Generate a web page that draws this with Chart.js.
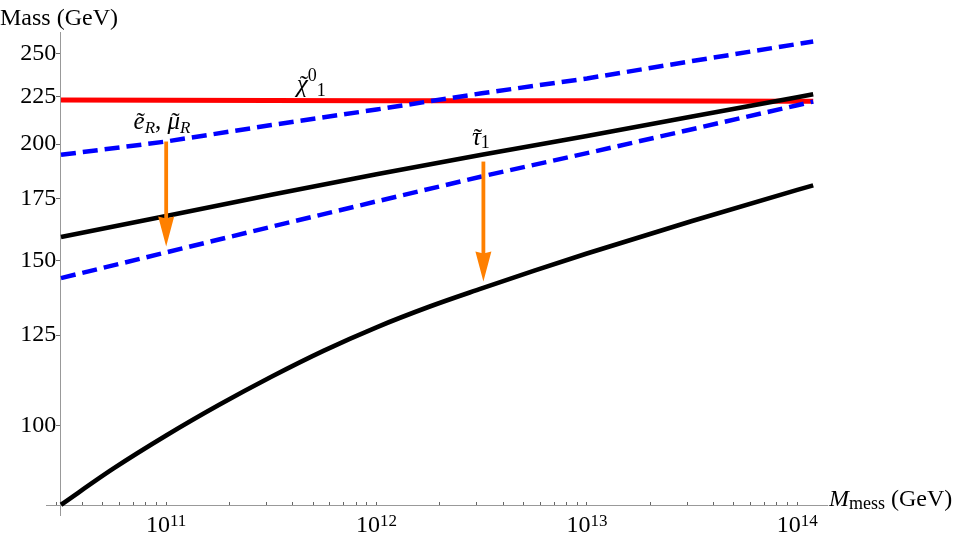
<!DOCTYPE html>
<html>
<head>
<meta charset="utf-8">
<script src="https://cdn.jsdelivr.net/npm/chart.js@4.4.1/dist/chart.umd.min.js"></script>
<style>
  html, body { margin: 0; padding: 0; background: #fff; }
</style>
</head>
<body>
<canvas id="massChart" width="958" height="536"></canvas>
<script>
// messenger scale in GeV
const mMess = [3.162e10, 1e11, 3.162e11, 1e12, 3.162e12, 1e13, 3.162e13, 1e14, 1.19e14];
const mMessStau = [3.162e10, 5.623e10, 1e11, 1.778e11, 3.162e11, 5.623e11, 1e12, 1.778e12, 3.162e12, 5.623e12, 1e13, 3.162e13, 1e14, 1.19e14];

// masses in GeV
const neutralino = [222.9, 222.8, 222.7, 222.6, 222.5, 222.5, 222.4, 222.3, 222.3];
const selectronOld = [194.8, 201.3, 209.6, 217.8, 226.7, 235.1, 245.4, 255.9, 257.5];
const selectronNew = [143.8, 153.2, 163.2, 173.7, 184.7, 195.6, 207.5, 220.1, 222.1];
const stauOld = [159.1, 167.6, 176.6, 185.7, 194.8, 204.1, 214.1, 224.5, 226.2];
const stauNew = [82.3, 90.0, 97.6, 105.2, 112.8, 120.3, 127.4, 134.0, 140.2, 146.5, 152.8, 165.5, 178.7, 180.7];

const yTicks = [100, 125, 150, 175, 200, 225, 250];
const xMajor = [1e11, 1e12, 1e13, 1e14];
const xMajorExp = ["11", "12", "13", "14"];

// orange arrows: where they sit and which masses they join
const arrowAt = [1e11, 3.22e12];
const arrowFrom = [201.3, 191.6];
const arrowTo = [155.4, 142.6];

const serif = '"Liberation Serif", "Times New Roman", serif';

function pts(xs, ys) {
    return xs.map(function(x, i) { return {x: x, y: ys[i]}; });
}

// minor ticks 3..9 x 10^10 up to 10^14
let xTicks = [];
[1e10, 1e11, 1e12, 1e13].forEach(function(d) {
    for (let k = 1; k <= 9; k++) {
        if (d * k >= 3e10) xTicks.push(d * k);
    }
});
xTicks.push(1e14);

// pieces: [text, font, dy, tilde]
function drawPieces(ctx, x, y, pieces, align) {
    let w = 0;
    pieces.forEach(function(p) { ctx.font = p[1]; w += ctx.measureText(p[0]).width; });
    let cx = align === "center" ? x - w / 2 : x;
    pieces.forEach(function(p) {
        ctx.font = p[1];
        let pw = ctx.measureText(p[0]).width;
        ctx.fillText(p[0], cx, y + (p[2] || 0));
        if (p[3]) {
            ctx.font = "25px " + serif;
            let tw = ctx.measureText("\u02DC").width;
            ctx.fillText("\u02DC", cx + pw / 2 - tw / 2 + 1.5, y + (p[2] || 0) + 1);
        }
        cx += pw;
    });
}

const arrows = {
    id: "arrows",
    afterDatasetsDraw(chart) {
        let ctx = chart.ctx;
        let xs = chart.scales.x, ys = chart.scales.y;
        ctx.save();
        ctx.fillStyle = "#ff8000";
        ctx.strokeStyle = "#ff8000";
        arrowAt.forEach(function(v, i) {
            let px = xs.getPixelForValue(v);
            let y0 = ys.getPixelForValue(arrowFrom[i]);
            let y1 = ys.getPixelForValue(arrowTo[i]);
            ctx.lineWidth = 3.8;
            ctx.beginPath();
            ctx.moveTo(px, y0);
            ctx.lineTo(px, y1 - 27);
            ctx.stroke();
            ctx.beginPath();
            ctx.moveTo(px, y1);
            ctx.lineTo(px - 8, y1 - 30);
            ctx.lineTo(px, y1 - 28);
            ctx.lineTo(px + 8, y1 - 30);
            ctx.closePath();
            ctx.fill();
        });
        ctx.restore();
    }
};

const texts = {
    id: "texts",
    afterDraw(chart) {
        let ctx = chart.ctx;
        let xs = chart.scales.x, ys = chart.scales.y;
        let big = "25px " + serif, ibig = "italic 25px " + serif;
        let small = "18px " + serif, ismall = "italic 17px " + serif;
        ctx.save();
        ctx.fillStyle = "#000";
        ctx.textBaseline = "alphabetic";
        ctx.textAlign = "left";

        // x tick labels 10^n
        let axisY = ys.getPixelForValue(82.11);
        xMajor.forEach(function(v, i) {
            drawPieces(ctx, xs.getPixelForValue(v), axisY + 26,
                [["10", "24px " + serif], [xMajorExp[i], "17px " + serif, -6]], "center");
        });

        // axis titles
        drawPieces(ctx, 0, 25, [["Mass (GeV)", "24px " + serif]]);
        drawPieces(ctx, chart.chartArea.right + 2, axisY,
            [["M", "italic 24px " + serif], ["mess", "18px " + serif, 3], [" (GeV)", "24px " + serif]]);

        // curve labels
        drawPieces(ctx, xs.getPixelForValue(7.0e10), ys.getPixelForValue(207.7),
            [["e", ibig, 0, true], ["R", ismall, 4], [", ", big], ["\u03BC", ibig, 0, true], ["R", ismall, 4]]);
        drawPieces(ctx, xs.getPixelForValue(2.84e12), ys.getPixelForValue(199.6),
            [["\u03C4", ibig, 0, true], ["1", small, 3]]);
        drawPieces(ctx, xs.getPixelForValue(4.18e11), ys.getPixelForValue(227.2),
            [["\u03C7", ibig, 0, true], ["0", small, -11], ["1", small, 4]]);
        ctx.restore();
    }
};

let ctx = document.getElementById("massChart").getContext("2d");

new Chart(ctx, {
    type: "line",
    data: {
        datasets: [
            {label: "neutralino", data: pts(mMess, neutralino), borderColor: "#ff0000", borderWidth: 5, order: 5},
            {label: "selectron old", data: pts(mMess, selectronOld), borderColor: "#0000ff", borderWidth: 4.5, borderDash: [15, 7], order: 4},
            {label: "selectron new", data: pts(mMess, selectronNew), borderColor: "#0000ff", borderWidth: 4.5, borderDash: [15, 7], order: 3},
            {label: "stau old", data: pts(mMess, stauOld), borderColor: "#000", borderWidth: 4.6, order: 2},
            {label: "stau new", data: pts(mMessStau, stauNew), borderColor: "#000", borderWidth: 4.6, cubicInterpolationMode: "monotone", order: 1}
        ]
    },
    options: {
        responsive: false,
        animation: false,
        devicePixelRatio: 1,
        layout: {padding: {left: 46, right: 131, top: 32, bottom: 21}},
        plugins: {legend: {display: false}, tooltip: {enabled: false}},
        elements: {point: {radius: 0}, line: {tension: 0, borderCapStyle: "butt"}},
        scales: {
            x: {
                type: "logarithmic",
                min: 2.684e10,
                max: 1.384e14,
                position: {y: 82.11},
                afterBuildTicks: function(s) { s.ticks = xTicks.map(function(v) { return {value: v}; }); },
                ticks: {display: false},
                grid: {drawOnChartArea: false, tickLength: -4, tickColor: "#666", tickWidth: 1},
                border: {color: "#999", width: 1}
            },
            y: {
                type: "logarithmic",
                min: 80.25,
                max: 263.6,
                position: {x: 3.162e10},
                afterBuildTicks: function(s) { s.ticks = yTicks.map(function(v) { return {value: v}; }); },
                ticks: {
                    color: "#000",
                    padding: 1,
                    font: {family: serif, size: 24},
                    callback: function(v) { return String(v) + "\u2009"; }
                },
                grid: {drawOnChartArea: false, tickLength: 4, tickColor: "#666", tickWidth: 1},
                border: {color: "#999", width: 1}
            }
        }
    },
    plugins: [arrows, texts]
});
</script>
</body>
</html>
